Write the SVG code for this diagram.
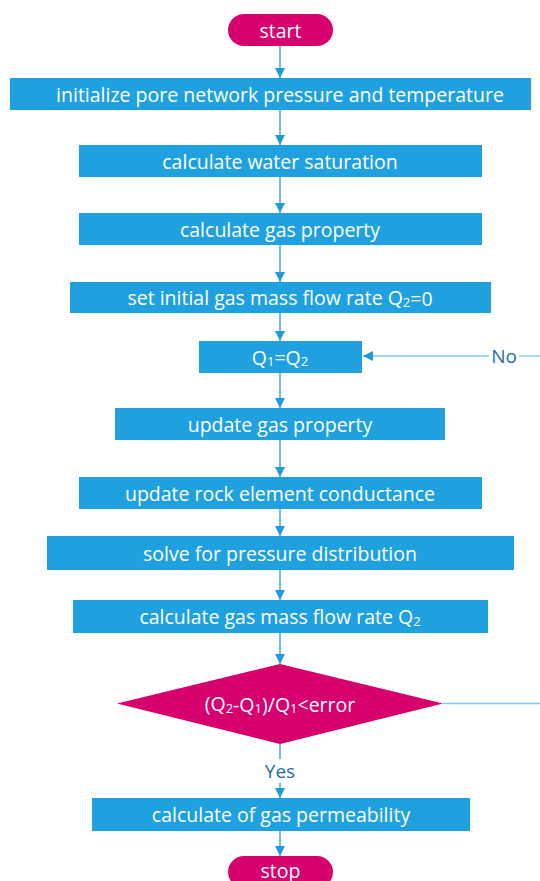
<svg xmlns="http://www.w3.org/2000/svg" width="540" height="881" viewBox="0 0 540 881">
  <style>
    .box { fill: #1fa1e0; }
    .term { fill: #d6006e; }
    .lbl { fill: #ffffff; font-family: "Open Sans", "Noto Sans", sans-serif; font-size: 19.5px; text-anchor: middle; dominant-baseline: central; }
    .sub { font-size: 13px; }
    .wire { stroke: #1e9bd8; stroke-width: 1.3; fill: none; }
    .loop { stroke: #7fc8ee; stroke-width: 1.3; fill: none; }
    .tag { fill: #1d6fa6; font-family: "Open Sans", "Noto Sans", sans-serif; font-size: 19px; text-anchor: middle; dominant-baseline: central; }
  </style>
  <defs>
    <marker id="arrow" viewBox="0 0 10 10" refX="10" refY="5" markerWidth="10" markerHeight="10" markerUnits="userSpaceOnUse" orient="auto">
      <path d="M0,0 L10,5 L0,10 z" fill="#1e9bd8"/>
    </marker>
  </defs>

  <rect width="540" height="881" fill="#ffffff"/>

  <g id="connectors">
    <line class="wire" x1="280" y1="46" x2="280" y2="78" marker-end="url(#arrow)"/>
    <line class="wire" x1="280" y1="110" x2="280" y2="145" marker-end="url(#arrow)"/>
    <line class="wire" x1="280" y1="177" x2="280" y2="213" marker-end="url(#arrow)"/>
    <line class="wire" x1="280" y1="245" x2="280" y2="282" marker-end="url(#arrow)"/>
    <line class="wire" x1="280" y1="313" x2="280" y2="341" marker-end="url(#arrow)"/>
    <line class="wire" x1="280" y1="373" x2="280" y2="408" marker-end="url(#arrow)"/>
    <line class="wire" x1="280" y1="440" x2="280" y2="477" marker-end="url(#arrow)"/>
    <line class="wire" x1="280" y1="509" x2="280" y2="536" marker-end="url(#arrow)"/>
    <line class="wire" x1="280" y1="570" x2="280" y2="600" marker-end="url(#arrow)"/>
    <line class="wire" x1="280" y1="633" x2="280" y2="664" marker-end="url(#arrow)"/>
    <line class="wire" x1="280" y1="744" x2="280" y2="759"/>
    <line class="wire" x1="280" y1="783" x2="280" y2="798" marker-end="url(#arrow)"/>
    <line class="wire" x1="280" y1="831" x2="280" y2="856" marker-end="url(#arrow)"/>
    <text class="tag" x="280" y="771">Yes</text>
    <line class="loop" x1="443" y1="703.5" x2="540" y2="703.5"/>
    <line class="loop" x1="540" y1="356" x2="519" y2="356"/>
    <line class="loop" x1="489" y1="356" x2="363" y2="356" marker-end="url(#arrow)"/>
    <text class="tag" x="504" y="356">No</text>
  </g>

  <g id="start">
    <rect class="term" x="228" y="14" width="105" height="32" rx="16"/>
    <text class="lbl" x="280.5" y="30">start</text>
  </g>
  <g id="init">
    <rect class="box" x="10" y="78" width="521" height="32"/>
    <text class="lbl" x="280" y="94">initialize pore network pressure and temperature</text>
  </g>
  <g id="water">
    <rect class="box" x="79" y="145" width="403" height="32"/>
    <text class="lbl" x="280" y="161">calculate water saturation</text>
  </g>
  <g id="gasprop">
    <rect class="box" x="79" y="213" width="403" height="32"/>
    <text class="lbl" x="280" y="229">calculate gas property</text>
  </g>
  <g id="setq2">
    <rect class="box" x="70" y="282" width="421" height="31"/>
    <text class="lbl" x="280" y="297.5">set initial gas mass flow rate Q<tspan class="sub" dy="4">2</tspan><tspan dy="-4">=0</tspan></text>
  </g>
  <g id="q1q2">
    <rect class="box" x="199" y="341" width="163" height="32"/>
    <text class="lbl" x="280" y="357">Q<tspan class="sub" dy="4">1</tspan><tspan dy="-4">=Q</tspan><tspan class="sub" dy="4">2</tspan></text>
  </g>
  <g id="update">
    <rect class="box" x="115" y="408" width="330" height="32"/>
    <text class="lbl" x="280" y="424">update gas property</text>
  </g>
  <g id="rock">
    <rect class="box" x="79" y="477" width="403" height="32"/>
    <text class="lbl" x="280" y="493">update rock element conductance</text>
  </g>
  <g id="solve">
    <rect class="box" x="47" y="536" width="467" height="34"/>
    <text class="lbl" x="280" y="553">solve for pressure distribution</text>
  </g>
  <g id="flow">
    <rect class="box" x="73" y="600" width="415" height="33"/>
    <text class="lbl" x="280" y="616.5">calculate gas mass flow rate Q<tspan class="sub" dy="4">2</tspan></text>
  </g>
  <g id="check">
    <polygon class="term" points="280,664 443,703.5 280,744 117,703.5"/>
    <text class="lbl" x="280" y="703.5">(Q<tspan class="sub" dy="4">2</tspan><tspan dy="-4">-Q</tspan><tspan class="sub" dy="4">1</tspan><tspan dy="-4">)/Q</tspan><tspan class="sub" dy="4">1</tspan><tspan dy="-4">&lt;error</tspan></text>
  </g>
  <g id="perm">
    <rect class="box" x="92" y="798" width="378" height="33"/>
    <text class="lbl" x="281" y="814.5">calculate of gas permeability</text>
  </g>
  <g id="stop">
    <rect class="term" x="228" y="856" width="105" height="32" rx="16"/>
    <text class="lbl" x="280.5" y="870">stop</text>
  </g>
</svg>
